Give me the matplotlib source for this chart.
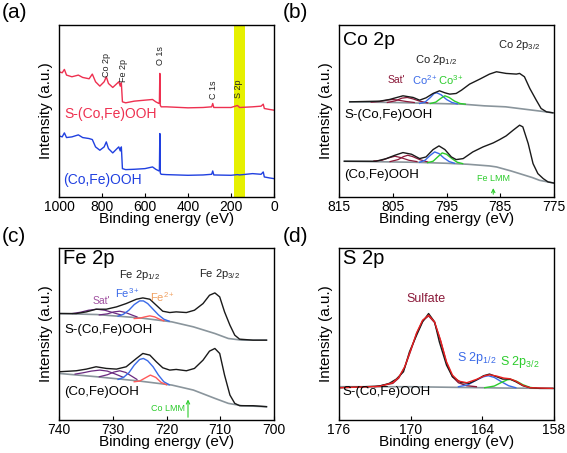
import numpy as np
import matplotlib
matplotlib.use("Agg")
import matplotlib.pyplot as plt

plt.rcParams['font.family'] = ['Liberation Sans', 'DejaVu Sans']
plt.rcParams['mathtext.fontset'] = 'custom'
plt.rcParams['mathtext.rm'] = 'Liberation Sans'
plt.rcParams['mathtext.it'] = 'Liberation Sans:italic'
plt.rcParams['mathtext.bf'] = 'Liberation Sans:bold'

# ---------------- (a) survey ----------------
a_energy = [1000, 985, 975, 965, 940, 910, 890, 860, 845, 830, 810, 790, 780, 770, 750, 730,
            722, 715, 710, 705, 690, 650, 600, 565, 550, 535, 533, 531, 529, 525, 500, 400,
            330, 290, 285, 280, 200, 170, 160, 100, 60, 50, 45, 20, 0]
a_sfe = [375, 372, 382, 365, 360, 365, 358, 354, 368, 345, 332, 345, 360, 340, 328, 340,
         345, 332, 342, 285, 282, 287, 290, 292, 285, 280, 285, 370, 275, 270, 270, 267,
         268, 270, 280, 268, 268, 274, 268, 270, 272, 278, 265, 262, 260]
a_cofe = [183, 180, 192, 178, 180, 186, 178, 175, 172, 150, 140, 150, 165, 145, 132, 145,
          150, 138, 150, 85, 82, 83, 85, 90, 83, 78, 82, 190, 72, 68, 67, 65,
          66, 68, 78, 66, 65, 67, 66, 70, 68, 75, 60, 57, 55]
a_peak_names = ["Co 2p", "Fe 2p", "O 1s", "C 1s", "S 2p"]
a_peak_pos = [780, 702, 527, 280, 164]
a_peak_y = [395, 380, 422, 320, 325]
s2p_band = (136, 186)

# ---------------- (b) Co 2p ----------------
b_top_e = [813.0, 807.4, 805.6, 803.1, 801.2, 800.0, 798.8, 797.5, 796.3, 795.3, 794.4, 793.2,
           792.2, 790.7, 788.8, 787.0, 785.7, 783.9, 782.0, 781.4, 780.5, 779.5, 778.3, 777.4,
           776.4, 775.2]
b_top_i = [285, 287, 292, 303, 298, 290, 297, 310, 318, 312, 308, 310,
           320, 338, 353, 368, 375, 370, 368, 370, 360, 325, 290, 265, 255, 252]
b_top_bg_e = [813, 805, 797, 792, 788, 784, 780, 777, 775.2]
b_top_bg_i = [285, 283, 280, 278, 273, 270, 262, 256, 252]
b_top_co2_e = [800, 799, 798, 797.3, 796.8, 796, 795, 794, 793]
b_top_co2_i = [280, 284, 298, 310, 312, 306, 292, 283, 279]
b_top_co3_e = [798, 797, 796, 795.3, 794.5, 793.5, 792.5, 791.5]
b_top_co3_i = [280, 284, 296, 303, 298, 287, 280, 278]
b_top_sat1_e = [809, 807.5, 806, 805, 804, 802.5, 801]
b_top_sat1_i = [284, 286, 290, 292, 290, 286, 283]
b_top_sat2_e = [806, 804.5, 803.3, 802.3, 801.3, 800, 798.5]
b_top_sat2_i = [283, 288, 296, 298, 294, 287, 282]

b_bot_e = [814.0, 808.1, 806.2, 804.6, 803.1, 801.5, 800.0, 798.8, 797.5, 796.4, 795.3, 794.1,
           793.2, 791.9, 790.1, 788.2, 786.3, 785.1, 783.9, 782.6, 781.4, 780.8, 779.8, 778.9,
           778.0, 777.0, 776.1, 775.1]
b_bot_i = [107, 107, 115, 125, 133, 128, 115, 120, 142, 153, 142, 120,
           112, 115, 135, 150, 162, 172, 183, 200, 215, 210, 160, 100, 70, 55, 45, 42]
b_bot_bg_e = [814, 801, 795, 791, 787, 785.7, 783, 781.4, 779, 777.7, 775.1]
b_bot_bg_i = [107, 104, 101, 98, 93, 90, 78, 70, 58, 50, 42]
b_bot_co2_e = [800, 799, 798, 797.2, 796.4, 795.5, 794.5, 793.5]
b_bot_co2_i = [104, 110, 125, 135, 130, 117, 106, 101]
b_bot_co3_e = [798.5, 797.5, 796.5, 795.8, 795, 794, 793, 792]
b_bot_co3_i = [103, 107, 122, 132, 128, 115, 104, 100]
b_bot_sat1_e = [808.5, 807, 805.8, 804.6, 803.5, 802, 800.5]
b_bot_sat1_i = [108, 110, 117, 122, 118, 110, 106]
b_bot_sat2_e = [805.5, 804, 803, 802.2, 801.3, 800, 798.5]
b_bot_sat2_i = [106, 112, 121, 125, 121, 112, 105]
fe_lmm_e = 786.3

# ---------------- (c) Fe 2p ----------------
c_top_e = [739.9, 736.8, 734.9, 733.1, 731.2, 729.3, 727.5, 725.6, 724.4, 723.1, 721.9, 720.7,
           719.4, 718.2, 716.3, 714.8, 713.2, 712.0, 711.0, 710.1, 709.2, 708.2, 707.3, 706.4,
           703.9, 701.4]
c_top_i = [320, 320, 325, 333, 333, 340, 350, 363, 367, 363, 345, 327,
           323, 325, 323, 330, 350, 375, 382, 370, 325, 285, 255, 243, 240, 240]
c_top_bg_e = [740, 733, 725, 719, 715, 711, 708.5, 706, 701.4]
c_top_bg_i = [320, 317, 307, 295, 280, 260, 245, 240, 240]
c_top_fe3_e = [729, 728, 727, 726, 725, 724.3, 723.5, 722.5, 721.5, 720.5, 719.5]
c_top_fe3_i = [312, 318, 330, 347, 358, 358, 350, 333, 316, 303, 297]
c_top_fe2_e = [726, 725, 724, 723.1, 722.2, 721.3, 720.5]
c_top_fe2_i = [305, 306, 310, 313, 310, 303, 298]
c_top_sat1_e = [737.5, 736, 734.5, 733, 731.5, 730, 728.5]
c_top_sat1_i = [320, 324, 330, 333, 330, 323, 316]
c_top_sat2_e = [732.5, 731, 729.8, 728.7, 727.6, 726.5, 725.5]
c_top_sat2_i = [316, 319, 325, 327, 323, 316, 310]

c_bot_e = c_top_e
c_bot_i = [145, 148, 153, 160, 155, 153, 160, 185, 200, 195, 175, 157,
           150, 152, 148, 155, 180, 207, 215, 200, 135, 75, 50, 43, 43, 40]
c_bot_bg_e = [740, 733, 725, 719, 715, 711, 708.5, 706, 701.4]
c_bot_bg_i = [140, 130, 117, 105, 90, 65, 50, 43, 40]
c_bot_fe3_e = [729, 728, 727, 726, 725, 724.3, 723.5, 722.5, 721.5, 720.5, 719.5]
c_bot_fe3_i = [122, 128, 142, 165, 182, 185, 178, 160, 135, 115, 106]
c_bot_fe2_e = [726, 725, 724, 723, 722, 721, 720]
c_bot_fe2_i = [115, 117, 126, 135, 128, 113, 106]
c_bot_sat1_e = [737, 735.5, 734, 732.4, 731, 729.5, 728]
c_bot_sat1_i = [138, 142, 147, 150, 147, 138, 128]
c_bot_sat2_e = [732.5, 731, 729.8, 728.7, 727.6, 726.5, 725.5]
c_bot_sat2_i = [130, 136, 144, 148, 143, 132, 122]
co_lmm_e = 716.0

# ---------------- (d) S 2p ----------------
d_e = [175.9, 172.6, 171.8, 171.2, 170.6, 170.1, 169.5, 169.0, 168.5, 168.0, 167.6, 167.0,
       166.5, 165.8, 165.1, 164.5, 163.9, 163.4, 162.8, 162.3, 161.7, 161.2, 160.6, 160.0,
       159.2, 158.1]
d_i = [97, 102, 110, 123, 145, 205, 255, 295, 320, 295, 235, 165,
       130, 113, 110, 120, 133, 138, 130, 123, 123, 115, 103, 97, 95, 95]
d_fit_e = [175.9, 172.6, 171.5, 171.0, 170.5, 170.0, 169.5, 169.0, 168.5, 168.0, 167.5, 167.0,
           166.5, 166.0, 165.3, 164.5, 163.8, 163.4, 162.8, 162.2, 161.7, 161.2, 160.6, 160.0,
           158.1]
d_fit_i = [97, 101, 112, 128, 160, 210, 262, 300, 315, 295, 240, 175,
           135, 117, 112, 122, 133, 136, 132, 126, 124, 117, 104, 97, 95]
d_bg_e = [176, 170, 166, 162, 158]
d_bg_i = [100, 100, 98, 96, 95]
d_sulf_e = [173, 171.5, 171, 170.5, 170, 169.5, 169, 168.5, 168, 167.5, 167, 166.5, 166,
            165.3, 164.5]
d_sulf_i = [100, 110, 126, 158, 208, 260, 298, 313, 293, 238, 172, 130, 112, 103, 100]
d_s12_e = [166, 165.2, 164.5, 163.9, 163.5, 163, 162.4, 161.8, 161.2]
d_s12_i = [100, 106, 120, 130, 133, 128, 115, 103, 97]
d_s32_e = [163.8, 163, 162.4, 161.9, 161.6, 161.1, 160.6, 160, 159.5]
d_s32_i = [97, 102, 113, 121, 122, 116, 106, 98, 96]

BLACK = '#1a1a1a'
GREY = '#8a959c'
BLUE = '#3a6ae8'
GREEN = '#2ccc2c'
MAROON = '#8b1a3a'
PURPLE = '#6a2a80'

fig = plt.figure(figsize=(5.67, 4.53), dpi=100)
W, H = 567, 453


def make_ax(left, top):
    ax = fig.add_axes([left / W, 1 - (top + 172) / H, 215 / W, 172 / H])
    ax.set_yticks([])
    ax.tick_params(axis='x', direction='in', length=3, labelsize=10, pad=2)
    ax.set_xlabel("Binding energy (eV)", fontsize=11, labelpad=-1)
    ax.set_ylabel("Intensity (a.u.)", fontsize=11, labelpad=4)
    for s in ax.spines.values():
        s.set_linewidth(1.0)
    return ax


# (a)
ax = make_ax(59, 25)
ax.axvspan(*s2p_band, color='#e6f000', lw=0)
ax.plot(a_energy, a_sfe, color='#ee3050', lw=1.0)
ax.plot(a_energy, a_cofe, color='#2040e0', lw=1.0)
for name, e, y in zip(a_peak_names, a_peak_pos, a_peak_y):
    ax.text(e, y, name, rotation=90, fontsize=6.5, ha='center', va='center', color='#222222')
ax.text(974, 250, "S-(Co,Fe)OOH", color='#ee3050', fontsize=10, ha='left', va='center')
ax.text(981, 50, "(Co,Fe)OOH", color='#2040e0', fontsize=10, ha='left', va='center')
ax.set_xlim(1000, 0)
ax.set_ylim(0, 515)
ax.set_xticks([1000, 800, 600, 400, 200, 0])

# (b)
ax = make_ax(339, 25)
for bg_e, bg_i in [(b_top_bg_e, b_top_bg_i), (b_bot_bg_e, b_bot_bg_i)]:
    ax.plot(bg_e, bg_i, color=GREY, lw=1.2)
for e, i in [(b_top_sat1_e, b_top_sat1_i), (b_top_sat2_e, b_top_sat2_i),
             (b_bot_sat1_e, b_bot_sat1_i), (b_bot_sat2_e, b_bot_sat2_i)]:
    ax.plot(e, i, color=MAROON, lw=0.9)
ax.plot(b_top_co2_e, b_top_co2_i, color=BLUE, lw=1.0)
ax.plot(b_bot_co2_e, b_bot_co2_i, color=BLUE, lw=1.0)
ax.plot(b_top_co3_e, b_top_co3_i, color=GREEN, lw=1.0)
ax.plot(b_bot_co3_e, b_bot_co3_i, color=GREEN, lw=1.0)
ax.plot(b_top_e, b_top_i, color=BLACK, lw=1.0)
ax.plot(b_bot_e, b_bot_i, color=BLACK, lw=1.0)
ax.annotate("", xy=(fe_lmm_e, 35), xytext=(fe_lmm_e, 0),
            arrowprops=dict(arrowstyle='->', color=GREEN, lw=0.8, mutation_scale=6))
ax.text(fe_lmm_e, 55, "Fe LMM", color=GREEN, fontsize=6.5, ha='center', va='center')
ax.text(814.3, 470, "Co 2p", fontsize=14, ha='left', va='center')
ax.text(796.9, 410, "Co 2p$_{1/2}$", fontsize=8, ha='center', va='center', color='#222222')
ax.text(781.5, 455, "Co 2p$_{3/2}$", fontsize=8, ha='center', va='center', color='#222222')
ax.text(804.3, 350, "Sat'", fontsize=7.5, ha='center', va='center', color=MAROON)
ax.text(799.0, 350, "Co$^{2+}$", fontsize=8, ha='center', va='center', color=BLUE)
ax.text(794.1, 350, "Co$^{3+}$", fontsize=8, ha='center', va='center', color=GREEN)
ax.text(814, 245, "S-(Co,Fe)OOH", fontsize=9.5, ha='left', va='center')
ax.text(814, 65, "(Co,Fe)OOH", fontsize=9.5, ha='left', va='center')
ax.set_xlim(815, 775)
ax.set_ylim(0, 515)
ax.set_xticks([815, 805, 795, 785, 775])

# (c)
ax = make_ax(59, 248)
for bg_e, bg_i in [(c_top_bg_e, c_top_bg_i), (c_bot_bg_e, c_bot_bg_i)]:
    ax.plot(bg_e, bg_i, color=GREY, lw=1.2)
for e, i in [(c_top_sat1_e, c_top_sat1_i), (c_top_sat2_e, c_top_sat2_i),
             (c_bot_sat1_e, c_bot_sat1_i), (c_bot_sat2_e, c_bot_sat2_i)]:
    ax.plot(e, i, color=PURPLE, lw=0.9)
ax.plot(c_top_fe3_e, c_top_fe3_i, color=BLUE, lw=1.0)
ax.plot(c_bot_fe3_e, c_bot_fe3_i, color=BLUE, lw=1.0)
ax.plot(c_top_fe2_e, c_top_fe2_i, color='#ff5a5a', lw=1.0)
ax.plot(c_bot_fe2_e, c_bot_fe2_i, color='#ff5a5a', lw=1.0)
ax.plot(c_top_e, c_top_i, color=BLACK, lw=1.0)
ax.plot(c_bot_e, c_bot_i, color=BLACK, lw=1.0)
ax.annotate("", xy=(co_lmm_e, 70), xytext=(co_lmm_e, 0),
            arrowprops=dict(arrowstyle='->', color=GREEN, lw=0.8, mutation_scale=6))
ax.text(716.6, 35, "Co LMM", color=GREEN, fontsize=6.5, ha='right', va='center')
ax.text(739.3, 485, "Fe 2p", fontsize=14.5, ha='left', va='center')
ax.text(725.0, 435, "Fe 2p$_{1/2}$", fontsize=8, ha='center', va='center', color='#222222')
ax.text(710.1, 440, "Fe 2p$_{3/2}$", fontsize=8, ha='center', va='center', color='#222222')
ax.text(732.1, 357, "Sat'", fontsize=7.5, ha='center', va='center', color='#a050a0')
ax.text(727.2, 380, "Fe$^{3+}$", fontsize=8, ha='center', va='center', color=BLUE)
ax.text(720.7, 370, "Fe$^{2+}$", fontsize=8, ha='center', va='center', color='#f0a060')
ax.text(739, 270, "S-(Co,Fe)OOH", fontsize=9.5, ha='left', va='center')
ax.text(739, 85, "(Co,Fe)OOH", fontsize=9.5, ha='left', va='center')
ax.set_xlim(740, 700)
ax.set_ylim(0, 517)
ax.set_xticks([740, 730, 720, 710, 700])

# (d)
ax = make_ax(339, 248)
ax.plot(d_bg_e, d_bg_i, color=GREY, lw=1.2)
ax.plot(d_sulf_e, d_sulf_i, color=MAROON, lw=1.0)
ax.plot(d_s12_e, d_s12_i, color=BLUE, lw=1.0)
ax.plot(d_s32_e, d_s32_i, color=GREEN, lw=1.0)
ax.plot(d_e, d_i, color=BLACK, lw=1.0)
ax.plot(d_fit_e, d_fit_i, color='#e82020', lw=1.0)
ax.text(175.7, 485, "S 2p", fontsize=14.5, ha='left', va='center')
ax.text(168.7, 363, "Sulfate", fontsize=9, ha='center', va='center', color=MAROON)
ax.text(164.5, 187, "S 2p$_{1/2}$", fontsize=9, ha='center', va='center', color=BLUE)
ax.text(160.9, 173, "S 2p$_{3/2}$", fontsize=9, ha='center', va='center', color=GREEN)
ax.text(175.7, 85, "S-(Co,Fe)OOH", fontsize=9.5, ha='left', va='center')
ax.set_xlim(176, 158)
ax.set_ylim(0, 517)
ax.set_xticks([176, 170, 164, 158])

# panel letters
for lab, x, y in [("(a)", 2, 12), ("(b)", 283, 12), ("(c)", 2, 237), ("(d)", 283, 237)]:
    fig.text(x / W, 1 - y / H, lab, fontsize=15, ha='left', va='center')

fig.savefig("out.png", dpi=100)
